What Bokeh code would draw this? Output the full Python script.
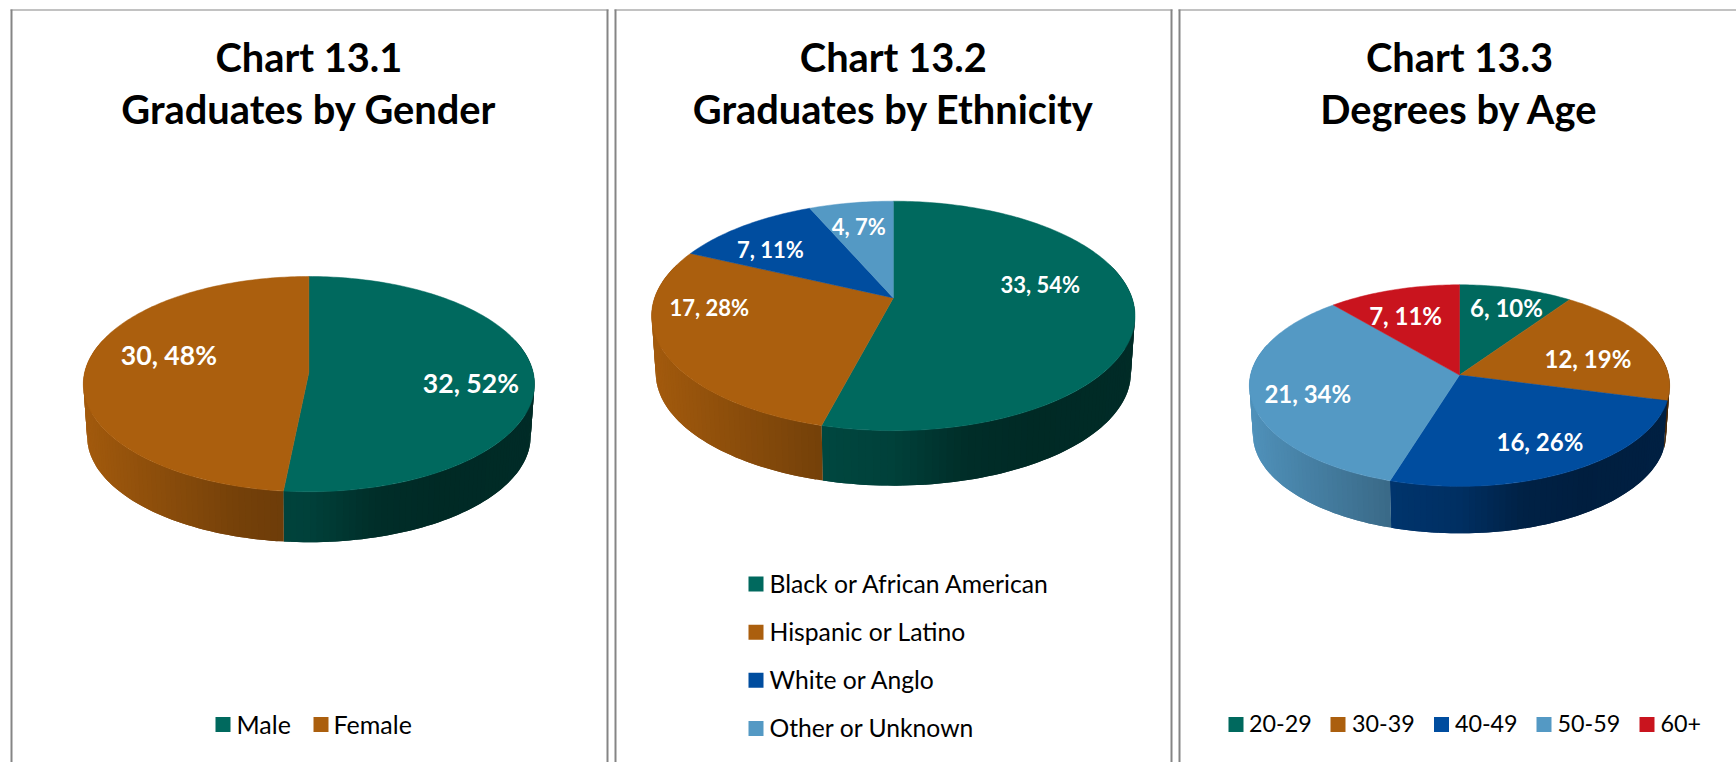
import numpy as np
from bokeh.core.properties import value
from bokeh.embed import file_html
from bokeh.layouts import row
from bokeh.models import Range1d
from bokeh.plotting import figure
from bokeh.resources import INLINE

# ---- data -------------------------------------------------------------
gender_labels = ["Male", "Female"]
gender_values = [32, 30]
gender_pct = [52, 48]

ethnicity_labels = ["Black or African American", "Hispanic or Latino", "White or Anglo", "Other or Unknown"]
ethnicity_values = [33, 17, 7, 4]
ethnicity_pct = [54, 28, 11, 7]

age_labels = ["20-29", "30-39", "40-49", "50-59", "60+"]
age_values = [6, 12, 16, 21, 7]
age_pct = [10, 19, 26, 34, 11]

titles = [
    ["Chart 13.1", "Graduates by Gender"],
    ["Chart 13.2", "Graduates by Ethnicity"],
    ["Chart 13.3", "Degrees by Age"],
]

# ---- style / layout ---------------------------------------------------
TEAL, ORANGE, BLUE, LIGHT, RED = "#00695E", "#AB5F0E", "#004D9F", "#5499C4", "#C9141E"
BORDER = "#858585"
FONT = "Lato"
TOP, BOTTOM, PAGE_RIGHT = 0, 762, 1736
BORDER_TOP = 9.5

panels = [
    dict(span=(0, 611), box=(11, 607), names=gender_labels, vals=gender_values, pct=gender_pct,
         title=titles[0], colors=[TEAL, ORANGE],
         cx=308.4, cy=371.7, rx=224.2, ry=106.3, k=0.1107, depth=50.5, label_size=26.6,
         label_off=[(162, 10.7), (-140, -17.5)],
         legend_size=25, sq_x=[215, 313], sq_y=[723, 723], txt_x=[236, 333]),
    dict(span=(611, 1175), box=(615, 1171), names=ethnicity_labels, vals=ethnicity_values, pct=ethnicity_pct,
         title=titles[1], colors=[TEAL, ORANGE, BLUE, LIGHT],
         cx=892.8, cy=297.4, rx=238.7, ry=111.9, k=0.157, depth=55, label_size=22,
         label_off=[(147, -13), (-184, 9.6), (-123, -48.6), (-34.5, -71.4)],
         legend_size=24.7, sq_x=[748, 748, 748, 748], sq_y=[582.6, 630.7, 678.8, 726.9], txt_x=[769] * 4),
    dict(span=(1175, 1736), box=(1179, None), names=age_labels, vals=age_values, pct=age_pct,
         title=titles[2], colors=[TEAL, ORANGE, BLUE, LIGHT, RED],
         cx=1459.0, cy=374.6, rx=209.0, ry=99.7, k=0.104, depth=47, label_size=24,
         label_off=[(47, -68), (128.4, -17), (80.4, 66.6), (-151.7, 18), (-53.9, -59.7)],
         legend_size=23.3, sq_x=[1228, 1330, 1433.5, 1536, 1639], sq_y=[723] * 5,
         txt_x=[1248.6, 1351.5, 1454.4, 1557, 1660]),
]

SHADE_X = [-1, -0.75, -0.3, 0, 0.3, 0.6, 1]
SHADE_F = [0.95, 0.85, 0.68, 0.62, 0.44, 0.40, 0.42]
LOWER_SCALE = 0.983


def project(theta, cfg, scale=1.0):
    """Clockwise angle from 12 o'clock on the tilted disc -> offsets from the apex (perspective)."""
    u, v = np.sin(theta), np.cos(theta)
    w = 1 + cfg["k"] * v
    return scale * cfg["rx"] * u / w, -scale * cfg["ry"] * v / w


def shade(color, f):
    r, g, b = int(color[1:3], 16), int(color[3:5], 16), int(color[5:7], 16)
    return "#%02x%02x%02x" % (int(r * f), int(g * f), int(b * f))


figs = []
for cfg in panels:
    x0, x1 = cfg["span"]
    p = figure(width=x1 - x0, height=BOTTOM - TOP, output_backend="svg", toolbar_location=None,
               x_range=Range1d(x0, x1), y_range=Range1d(BOTTOM, TOP),
               min_border=0, margin=0, background_fill_color="white", border_fill_color="white")
    p.axis.visible = False
    p.grid.visible = False
    p.outline_line_color = None

    # panel border (open at the bottom): 2px sides, 1px top
    left, right = cfg["box"]
    verticals = [left] + ([right] if right else [])
    p.multi_line([[v, v] for v in verticals], [[BOTTOM, BORDER_TOP - 0.5] for _ in verticals],
                 line_color=BORDER, line_width=2)
    p.line([left - 1, (right + 1) if right else PAGE_RIGHT], [BORDER_TOP, BORDER_TOP], line_color=BORDER, line_width=1)

    vals = np.array(cfg["vals"], dtype=float)
    edges = np.concatenate([[0], np.cumsum(vals)]) / vals.sum() * 2 * np.pi
    cx, cy, depth = cfg["cx"], cfg["cy"], cfg["depth"]
    _, bottom_y = project(np.pi, cfg)
    drop = depth + bottom_y * (1 - LOWER_SCALE)

    # side wall: thin shaded strips, each overlapping the next so no seams show
    wx, wy, wc = [], [], []
    for a, b, col in zip(edges[:-1], edges[1:], cfg["colors"]):
        lo, hi = max(a, np.pi * 0.4), min(b, np.pi * 1.6)
        if hi <= lo:
            continue
        n = max(2, int((hi - lo) / np.radians(1.5)))
        th = np.linspace(lo, hi, n + 1)
        step = th[1] - th[0]
        for t0 in th[:-1]:
            seg = np.array([t0, t0 + step, min(t0 + 2 * step, hi)])
            xa, ya = project(seg, cfg)
            xb, yb = project(seg, cfg, LOWER_SCALE)
            wx.append(np.concatenate([cx + xa, (cx + xb)[::-1]]).tolist())
            wy.append(np.concatenate([cy + ya, (cy + yb + drop)[::-1]]).tolist())
            f = float(np.interp((xa[0] + xa[1]) / 2 / cfg["rx"], SHADE_X, SHADE_F))
            wc.append(shade(col, f))
    p.patches(wx, wy, fill_color=wc, line_color=None)

    # top face
    sx, sy = [], []
    for a, b in zip(edges[:-1], edges[1:]):
        th = np.linspace(a, b, max(3, int((b - a) / np.radians(1))))
        px, py = project(th, cfg)
        sx.append(np.concatenate([[cx], cx + px]).tolist())
        sy.append(np.concatenate([[cy], cy + py]).tolist())
    p.patches(sx, sy, fill_color=cfg["colors"], line_color=cfg["colors"], line_width=0.5)

    # data labels
    p.text([cx + o[0] for o in cfg["label_off"]], [cy + o[1] for o in cfg["label_off"]],
           text=[f"{v}, {q}%" for v, q in zip(cfg["vals"], cfg["pct"])],
           text_color="white", text_font=value(FONT), text_font_style="bold",
           text_font_size=f"{cfg['label_size']}px", text_align="center", text_baseline="middle")

    # title
    p.text([cx, cx], [55.5, 108], text=cfg["title"], text_color="black", text_font=value(FONT),
           text_font_style="bold", text_font_size="39.8px", text_align="center", text_baseline="middle")

    # legend
    p.rect([x + 7.5 for x in cfg["sq_x"]], [y + 1 for y in cfg["sq_y"]], width=15, height=15,
           fill_color=cfg["colors"], line_color=None)
    p.text(cfg["txt_x"], cfg["sq_y"], text=cfg["names"], text_color="black", text_font=value(FONT),
           text_font_size=f"{cfg['legend_size']}px", text_align="left", text_baseline="middle")
    figs.append(p)

page = row(*figs, spacing=0, margin=0)
open("out.html", "w").write(file_html(page, INLINE))
